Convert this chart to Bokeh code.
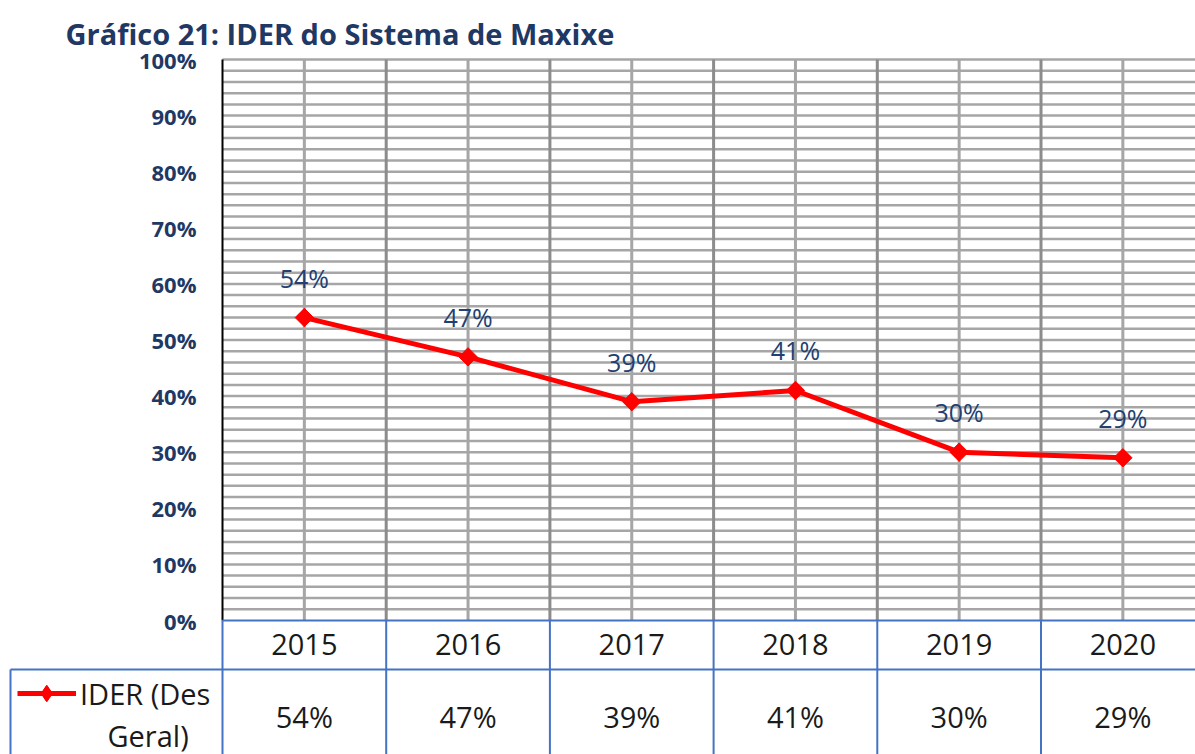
import math
from bokeh.plotting import figure
from bokeh.models import Range1d, Legend, LegendItem
from bokeh.embed import file_html
from bokeh.resources import INLINE
from bokeh.core.properties import value

# ---------------- data ----------------
years = ["2015", "2016", "2017", "2018", "2019", "2020"]
ider = [0.54, 0.47, 0.39, 0.41, 0.30, 0.29]
ider_labels = ["54%", "47%", "39%", "41%", "30%", "29%"]
y_ticks = [0.0, 0.1, 0.2, 0.3, 0.4, 0.5, 0.6, 0.7, 0.8, 0.9, 1.0]
y_tick_labels = ["0%", "10%", "20%", "30%", "40%", "50%", "60%", "70%", "80%", "90%", "100%"]
series_name = ["IDER (Des", "Geral)"]
title_text = "Gráfico 21: IDER do Sistema de Maxixe"

# ---------------- style / layout ----------------
NAVY = "#1F3864"
LABEL_NAVY = "#223F73"
RED = "#FF0000"
BLUE = "#4472C4"
GRID = "#A6A6A6"
GRID_DARK = "#8C8C8C"
TXT = "#1A1A1A"
FONT = "Open Sans"

W, H = 1195, 754
PLOT_LEFT = 222       # px of the chart's left edge
TOP = 59              # px of 100%
ZERO_Y = 620          # px of 0%
UNIT = ZERO_Y - TOP   # px for 100%
CAT_W = 163.7         # px per category

idx = list(range(len(years)))
x_start = -0.5 - PLOT_LEFT / CAT_W
x_end = -0.5 + (W - PLOT_LEFT) / CAT_W
y_start = -(H - ZERO_Y) / UNIT
y_end = 1 + TOP / UNIT


def px(page_x):
    return -0.5 + (page_x - PLOT_LEFT) / CAT_W


def py(page_y):
    return (ZERO_Y - page_y) / UNIT


p = figure(width=W, height=H, output_backend="svg", toolbar_location=None,
           x_range=Range1d(x_start, x_end), y_range=Range1d(y_start, y_end),
           x_axis_location=None, y_axis_location=None,
           min_border=0, min_border_left=0, min_border_top=0,
           min_border_right=0, min_border_bottom=0)
p.outline_line_color = None
p.background_fill_color = "white"
p.border_fill_color = "white"
p.xgrid.visible = False
p.ygrid.visible = False

# title
p.text([px(65)], [py(33)], text=[title_text], text_align="left",
       text_baseline="middle", text_font=value(FONT), text_font_style="bold",
       text_font_size="29px", text_color=NAVY)

# horizontal grid (every 2 %)
levels = [k / 50 for k in range(1, 51)]
p.segment(x0=[-0.5] * len(levels), y0=levels, x1=[x_end] * len(levels), y1=levels,
          line_color=GRID, line_width=2.5)

# vertical grid
bounds = [i + 0.5 for i in idx]
p.segment(x0=idx, y0=[0] * len(idx), x1=idx, y1=[1] * len(idx),
          line_color=GRID, line_width=3)
p.segment(x0=bounds, y0=[0] * len(bounds), x1=bounds, y1=[1] * len(bounds),
          line_color=GRID_DARK, line_width=3)

# value axis: line + tick labels
p.segment(x0=[-0.5], y0=[0], x1=[-0.5], y1=[1], line_color="black", line_width=2)
p.text([px(196)] * len(y_ticks), y_ticks, text=y_tick_labels,
       text_align="right", text_baseline="middle", text_font=value(FONT),
       text_font_style="bold", text_font_size="22px", text_color=NAVY)

# series
line_r = p.line(idx, ider, line_color=RED, line_width=5)
dots_r = p.scatter(idx, ider, marker="square", angle=math.pi / 4, size=13,
                   fill_color=RED, line_color=RED, line_width=1)
p.text(idx, ider, text=ider_labels, y_offset=-40,
       text_align="center", text_baseline="middle",
       text_font=value(FONT), text_font_size="25px", text_color=LABEL_NAVY)

# ---------------- data table ----------------
all_bounds = [-0.5] + bounds
p.segment(x0=[-0.5, px(10)], y0=[0, py(669)],
          x1=[x_end, x_end], y1=[0, py(669)],
          line_color=BLUE, line_width=2)
p.segment(x0=all_bounds + [px(10)], y0=[0] * len(all_bounds) + [py(669)],
          x1=all_bounds + [px(10)], y1=[y_start] * (len(all_bounds) + 1),
          line_color=BLUE, line_width=2)

p.text(idx, [py(644)] * len(idx), text=years, text_align="center",
       text_baseline="middle", text_font=value(FONT), text_font_size="29px",
       text_color=TXT)
p.text(idx, [py(716)] * len(idx), text=ider_labels, text_align="center",
       text_baseline="middle", text_font=value(FONT), text_font_size="29px",
       text_color=TXT)

# legend key inside the table
key_marker = p.scatter(x=[px(46)], y=[py(693)], marker="diamond", size=16,
                       fill_color=RED, line_color=RED, line_width=1)
legend = Legend(items=[LegendItem(label=series_name[0], renderers=[line_r, key_marker])],
                location=(17, 41), orientation="vertical",
                padding=0, margin=0, spacing=0,
                glyph_width=59, glyph_height=40, label_standoff=4,
                label_text_font=FONT, label_text_font_size="29px",
                label_text_color=TXT, border_line_color=None,
                background_fill_alpha=0)
p.add_layout(legend)
p.text([px(107)], [py(735)], text=[series_name[1]], text_align="left",
       text_baseline="middle", text_font=value(FONT), text_font_size="29px",
       text_color=TXT)

open("out.html", "w").write(file_html(p, INLINE))
